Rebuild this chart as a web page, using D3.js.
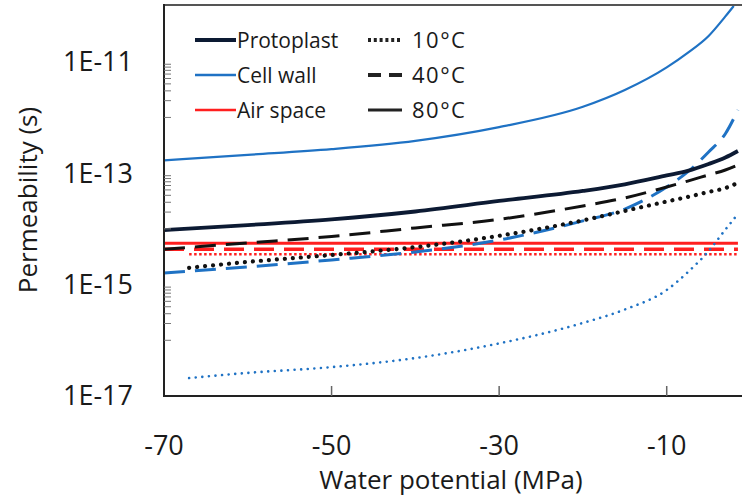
<!DOCTYPE html>
<html>
<head>
<meta charset="utf-8">
<script src="https://cdn.jsdelivr.net/npm/d3@7"></script>
<style>
  body { margin: 0; background: #fff; }
  svg text { font-family: "Open Sans", "Noto Sans", sans-serif; fill: #1a1a1a; }
</style>
</head>
<body>
<script>
// water potential (MPa) sample points
var xGrid = [-70, -60, -50, -40, -30, -20, -15, -10, -7.5, -5, -3, -1.5]
var xGrid10 = [-67, -60, -50, -40, -30, -20, -15, -10, -7.5, -5, -3, -1.5]
var xCellWall80 = [-70, -60, -50, -40, -30, -20, -15, -10, -7.5, -5, -3, -2]
var xAir = [-70, -1.5]
var xAir10 = [-67, -1.5]

// permeability (s)
var protoplast80 = [9.5e-15, 1.17e-14, 1.48e-14, 2.05e-14, 3.17e-14, 4.8e-14, 6.3e-14, 9.1e-14, 1.10e-13, 1.46e-13, 1.91e-13, 2.5e-13]
var protoplast40 = [4.3e-15, 5.6e-15, 7.3e-15, 1.04e-14, 1.48e-14, 2.58e-14, 3.59e-14, 5.65e-14, 7.2e-14, 9.3e-14, 1.14e-13, 1.40e-13]
var protoplast10 = [2.0e-15, 2.55e-15, 3.4e-15, 4.7e-15, 7.5e-15, 1.42e-14, 2.1e-14, 3.1e-14, 3.74e-14, 4.6e-14, 5.4e-14, 6.7e-14]
var cellWall80 = [1.69e-13, 2.13e-13, 2.7e-13, 3.8e-13, 6.7e-13, 1.55e-12, 3.1e-12, 7.9e-12, 1.44e-11, 2.9e-11, 6.5e-11, 1.0e-10]
var cellWall40 = [1.62e-15, 2.07e-15, 2.77e-15, 3.85e-15, 6.3e-15, 1.39e-14, 2.27e-14, 5.65e-14, 1.05e-13, 2.4e-13, 5.1e-13, 1.36e-12]
var cellWall10 = [2.1e-17, 2.6e-17, 3.3e-17, 4.8e-17, 8.8e-17, 2.05e-16, 3.57e-16, 8.0e-16, 1.66e-15, 4.0e-15, 9.7e-15, 1.85e-14]
var airSpace80 = [5.5e-15, 5.5e-15]
var airSpace40 = [4.3e-15, 4.3e-15]
var airSpace10 = [3.5e-15, 3.5e-15]

var xTicks = [-70, -50, -30, -10]
var yTickLabels = [1e-17, 1e-15, 1e-13, 1e-11]
var minorDecades = [-16, -14, -12]

var tissues = ['Protoplast', 'Cell wall', 'Air space']
var temps = ['10°C', '40°C', '80°C']

var navy = '#0c1a33', blue = '#1f72c4', red = '#ff1f1f', dark = '#111'

var width = 742, height = 499
var svg = d3.select('body').append('svg')
            .attr('width', width)
            .attr('height', height)

var x = d3.scaleLinear().domain([-70, 0]).range([164, 750.5])
var y = d3.scaleLog().domain([1e-17, 1e-10]).range([396, 6])

svg.append('clipPath').attr('id', 'plot')
   .append('rect').attr('x', 164).attr('y', 5).attr('width', 600).attr('height', 392)

// series: drawn back to front
var series = [
  {xs: xAir, ys: airSpace80, color: red, w: 3, dash: null},
  {xs: xAir, ys: airSpace40, color: red, w: 3.5, dash: '20 10'},
  {xs: xAir10, ys: airSpace10, color: red, w: 2.5, dash: '2.5 2.5'},
  {xs: xGrid10, ys: cellWall10, color: blue, w: 2.6, dash: '0.01 6.6', cap: 'round'},
  {xs: xGrid, ys: cellWall40, color: blue, w: 3, dash: '21 10'},
  {xs: xCellWall80, ys: cellWall80, color: blue, w: 2.2, dash: null},
  {xs: xGrid10, ys: protoplast10, color: dark, w: 4.2, dash: '0.01 8', cap: 'round'},
  {xs: xGrid, ys: protoplast40, color: dark, w: 3, dash: '21 10'},
  {xs: xGrid, ys: protoplast80, color: navy, w: 3.8, dash: null}
]

var line = d3.line()
             .x(function(d){ return x(d[0]) })
             .y(function(d){ return y(d[1]) })
             .curve(d3.curveMonotoneX)

svg.append('g').attr('clip-path', 'url(#plot)')
   .selectAll('path')
   .data(series)
   .enter()
   .append('path')
   .attr('d', function(s){ return line(s.xs.map(function(v, i){ return [v, s.ys[i]] })) })
   .attr('fill', 'none')
   .attr('stroke', function(s){ return s.color })
   .attr('stroke-width', function(s){ return s.w })
   .attr('stroke-dasharray', function(s){ return s.dash })
   .attr('stroke-linecap', function(s){ return s.cap || 'butt' })

// frame
svg.append('line').attr('x1', x(-70)).attr('x2', width).attr('y1', 5).attr('y2', 5)
   .attr('stroke', '#555').attr('stroke-width', 2)
svg.append('line').attr('x1', x(-70)).attr('x2', x(-70)).attr('y1', 4).attr('y2', 397)
   .attr('stroke', '#222').attr('stroke-width', 2)
svg.append('line').attr('x1', x(-70) - 1).attr('x2', width).attr('y1', 396).attr('y2', 396)
   .attr('stroke', '#222').attr('stroke-width', 2)

// minor ticks on the log axis (inside)
var minor = []
minorDecades.forEach(function(e){
  d3.range(1, 10).forEach(function(k){ minor.push(k * Math.pow(10, e)) })
})
svg.selectAll('.minor')
   .data(minor)
   .enter()
   .append('line')
   .attr('x1', x(-70)).attr('x2', x(-70) + 7)
   .attr('y1', function(d){ return y(d) })
   .attr('y2', function(d){ return y(d) })
   .attr('stroke', '#777').attr('stroke-width', 1)

svg.selectAll('.xtick')
   .data(xTicks.slice(1))
   .enter()
   .append('line')
   .attr('x1', function(d){ return x(d) })
   .attr('x2', function(d){ return x(d) })
   .attr('y1', 396).attr('y2', 386)
   .attr('stroke', '#666').attr('stroke-width', 1.5)

// tick labels
svg.selectAll('.ylab')
   .data(yTickLabels)
   .enter()
   .append('text')
   .attr('x', 133)
   .attr('y', function(d){ return y(d) })
   .attr('dy', '0.35em')
   .attr('text-anchor', 'end')
   .style('font-size', '27px')
   .text(function(d){ return '1E' + Math.round(Math.log10(d)) })

svg.selectAll('.xlab')
   .data(xTicks)
   .enter()
   .append('text')
   .attr('x', function(d){ return x(d) })
   .attr('y', 455)
   .attr('text-anchor', 'middle')
   .style('font-size', '27px')
   .text(function(d){ return d })

svg.append('text')
   .attr('x', 451).attr('y', 489)
   .attr('text-anchor', 'middle')
   .style('font-size', '26px')
   .text('Water potential (MPa)')

svg.append('text')
   .attr('transform', 'translate(37,200) rotate(-90)')
   .attr('text-anchor', 'middle')
   .style('font-size', '26px')
   .text('Permeability (s)')

// legend
var legTissue = [
  {color: navy, w: 4},
  {color: blue, w: 2.5},
  {color: red, w: 2.5}
]
var legTemp = [
  {dash: '3 2.8', w: 4},
  {dash: '13 8', w: 4},
  {dash: null, w: 3.2}
]
var leg = svg.append('g')
tissues.forEach(function(name, i){
  var ry = 40 + i * 35
  leg.append('line').attr('x1', 195).attr('x2', 236).attr('y1', ry).attr('y2', ry)
     .attr('stroke', legTissue[i].color).attr('stroke-width', legTissue[i].w)
  leg.append('text').attr('x', 237).attr('y', ry).attr('dy', '0.36em')
     .style('font-size', '21px').text(name)
})
temps.forEach(function(name, i){
  var ry = 40 + i * 35
  leg.append('line').attr('x1', 368).attr('x2', 402).attr('y1', ry).attr('y2', ry)
     .attr('stroke', '#222').attr('stroke-width', legTemp[i].w)
     .attr('stroke-dasharray', legTemp[i].dash)
  leg.append('text').attr('x', 412).attr('y', ry).attr('dy', '0.36em')
     .style('font-size', '22px').style('letter-spacing', '1.5px').text(name)
})
</script>
</body>
</html>
